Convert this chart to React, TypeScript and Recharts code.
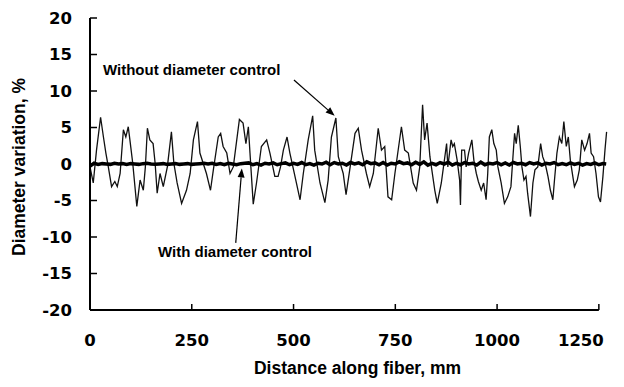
import React from 'react';
import { LineChart, Line, XAxis, YAxis, Label, ReferenceLine, ReferenceDot } from 'recharts';

// Without diameter control (thin trace)
const freeX = [0, 8, 16, 26, 33, 39, 45, 53, 61, 67, 74, 82, 88, 94, 98, 105, 115, 123, 131, 136, 141, 147, 155, 160, 165, 172, 180, 190, 200, 206, 214, 225, 237, 246, 254, 264, 270, 286, 296, 303, 315, 321, 327, 336, 344, 352, 367, 376, 383, 389, 393, 401, 409, 421, 434, 442, 454, 462, 468, 475, 484, 491, 507, 516, 524, 536, 547, 552, 565, 577, 585, 593, 604, 610, 622, 629, 638, 651, 659, 667, 679, 687, 696, 708, 716, 724, 732, 741, 749, 765, 773, 782, 794, 802, 810, 817, 822, 828, 835, 847, 853, 863, 876, 879, 887, 891, 895, 902, 908, 910, 913, 920, 924, 930, 938, 943, 949, 954, 961, 967, 973, 977, 981, 987, 992, 998, 1002, 1010, 1018, 1026, 1034, 1039, 1043, 1047, 1052, 1057, 1061, 1066, 1071, 1075, 1082, 1088, 1093, 1100, 1107, 1112, 1118, 1125, 1131, 1137, 1141, 1147, 1153, 1159, 1164, 1170, 1175, 1180, 1186, 1190, 1197, 1202, 1208, 1215, 1221, 1227, 1231, 1237, 1243, 1249, 1254, 1260, 1265, 1269];
const freeY = [-0.4, -2.6, 1.9, 6.4, 3.7, 1.5, -0.4, -3.1, -2.4, -3.1, -1.3, 4.7, 3.7, 5.1, 3.3, 0.1, -5.8, -2.2, -3.6, -0.4, 4.9, 3.3, 2.8, 0.1, -4.0, -1.3, -3.1, -0.4, 4.4, 0.1, -2.6, -5.4, -3.6, -1.3, 3.3, 5.8, 1.5, -1.3, -3.6, -0.8, 3.7, 4.2, 2.4, 1.5, -1.3, -0.4, 6.1, 5.6, 2.8, 5.1, 1.5, -5.5, -2.6, 2.4, 3.3, 1.5, -1.7, -1.7, -0.4, 1.9, 3.7, 1.5, -2.6, -4.9, -1.3, 3.3, 6.6, 1.9, -2.6, -5.3, -2.2, 3.7, 6.3, 1.0, -1.3, -4.2, -0.8, 4.2, 4.9, 1.9, -1.3, -3.1, -1.3, 4.9, 1.9, 2.4, -4.5, -4.9, -1.3, 5.1, 1.9, 1.5, -2.6, -3.6, -0.4, 8.1, 3.3, 5.6, 1.0, -3.6, -5.4, -2.6, 2.8, -0.4, 3.3, 2.4, 2.8, 0.5, -2.2, -5.6, 1.9, 1.9, -0.4, 1.5, 3.3, 0.5, -1.3, -2.4, -3.6, -2.6, -4.9, -1.3, 3.7, 4.7, 2.8, 1.9, -0.4, -2.6, -5.4, -4.5, -3.1, 1.0, 4.2, 2.8, 5.3, 2.4, -0.4, -2.2, -1.7, -4.0, -7.2, -2.6, -0.8, -0.4, 2.8, 1.0, 0.1, -1.7, -3.6, -4.9, -2.2, 1.5, 3.7, 2.8, 5.8, 2.4, 3.7, 0.5, -1.7, -3.1, -2.2, -0.8, 3.3, 1.9, 2.8, 4.2, 1.5, 1.0, -1.3, -4.5, -5.2, -1.7, 1.9, 4.4];

// With diameter control (thick trace)
const ctrlX = [0, 10, 20, 30, 40, 50, 60, 70, 80, 90, 100, 110, 120, 130, 140, 150, 160, 170, 180, 190, 200, 210, 220, 230, 240, 250, 260, 270, 280, 290, 300, 310, 320, 330, 340, 350, 360, 370, 380, 390, 400, 410, 420, 430, 440, 450, 460, 470, 480, 490, 500, 510, 520, 530, 540, 550, 560, 570, 580, 590, 600, 610, 620, 630, 640, 650, 660, 670, 680, 690, 700, 710, 720, 730, 740, 750, 760, 770, 780, 790, 800, 810, 820, 830, 840, 850, 860, 870, 880, 890, 900, 910, 920, 930, 940, 950, 960, 970, 980, 990, 1000, 1010, 1020, 1030, 1040, 1050, 1060, 1070, 1080, 1090, 1100, 1110, 1120, 1130, 1140, 1150, 1160, 1170, 1180, 1190, 1200, 1210, 1220, 1230, 1240, 1250, 1260, 1268];
const ctrlY = [-0.3, 0.1, -0.05, 0.05, 0.0, -0.05, 0.1, 0.0, 0.05, -0.05, 0.05, 0.0, -0.05, 0.05, 0.1, 0.0, -0.05, 0.0, 0.05, -0.05, 0.0, 0.05, -0.05, 0.0, 0.05, -0.05, 0.0, 0.05, 0.1, 0.0, 0.1, -0.05, 0.05, -0.1, 0.1, 0.0, -0.1, 0.05, 0.1, 0.15, -0.1, 0.05, -0.15, 0.1, 0.0, 0.15, -0.1, 0.05, 0.15, -0.1, 0.1, -0.05, 0.2, -0.1, 0.05, -0.15, 0.1, 0.0, 0.25, -0.1, 0.2, 0.0, 0.1, -0.15, 0.2, 0.0, 0.15, -0.1, 0.3, 0.05, 0.15, -0.1, 0.2, -0.15, 0.1, 0.0, 0.3, 0.05, 0.15, -0.1, 0.25, -0.05, 0.3, -0.15, 0.1, -0.1, 0.2, 0.0, 0.25, -0.15, 0.1, -0.1, 0.2, 0.0, 0.1, -0.15, 0.25, -0.1, 0.1, 0.0, 0.2, -0.1, 0.15, -0.15, 0.2, 0.0, 0.1, -0.1, 0.2, 0.0, 0.15, -0.15, 0.1, 0.0, 0.2, -0.1, 0.05, -0.1, 0.15, -0.05, 0.1, -0.15, 0.05, -0.05, 0.15, -0.1, 0.05, 0.0];

const xTicks = [0, 250, 500, 750, 1000, 1250];
const yTicks = [-20, -15, -10, -5, 0, 5, 10, 15, 20];
const xTitle = 'Distance along fiber, mm';
const yTitle = 'Diameter variation, %';
const freeName = 'Without diameter control';
const ctrlName = 'With diameter control';

const freeData = freeX.map((x, i) => ({ x, v: freeY[i] }));
const ctrlData = ctrlX.map((x, i) => ({ x, v: ctrlY[i] }));

const FONT = '"Liberation Sans", Arial, Helvetica, sans-serif';
const TICKFONT = '"DejaVu Sans", Verdana, sans-serif';

const arrowShape = (props: any) => {
  const { x1, y1, x2, y2 } = props;
  const ang = Math.atan2(y2 - y1, x2 - x1);
  const L = 9;
  const W = 3.5;
  const bx = x2 - L * Math.cos(ang);
  const by = y2 - L * Math.sin(ang);
  const px = -Math.sin(ang) * W;
  const py = Math.cos(ang) * W;
  return (
    <g>
      <line x1={x1} y1={y1} x2={bx} y2={by} stroke="#000" strokeWidth={1.2} />
      <polygon points={`${x2},${y2} ${bx + px},${by + py} ${bx - px},${by - py}`} fill="#000" />
    </g>
  );
};

const textShape = (label: string) => (props: any) => (
  <text x={props.cx} y={props.cy} fontFamily={FONT} fontWeight="bold" fontSize={15} fill="#000">
    {label}
  </text>
);

const tickStyle = { fontFamily: TICKFONT, fontWeight: 'bold', fontSize: 16.5, fill: '#000' } as any;

const XTick = (props: any) => {
  const { x, y, payload } = props;
  const last = payload.value === xTicks[xTicks.length - 1];
  return (
    <text
      x={last ? x + 5 : x}
      y={y}
      dy="0.71em"
      textAnchor={last ? 'end' : 'middle'}
      fontFamily={TICKFONT}
      fontWeight="bold"
      fontSize={16.5}
      fill="#000"
    >
      {payload.value}
    </text>
  );
};

export default function App() {
  return (
    <LineChart width={608} height={371} margin={{ top: 10, right: 9, bottom: 0, left: 0 }}>
      <XAxis
        type="number"
        dataKey="x"
        domain={[0, 1270]}
        ticks={xTicks}
        axisLine={false}
        tickSize={-6}
        tickMargin={30}
        tickLine={{ stroke: '#000', strokeWidth: 1.5 }}
        tick={XTick}
        height={69}
      >
        <Label
          content={(p: any) => {
            const vb = p.viewBox;
            return (
              <text x={vb.x + vb.width / 2 + 9} y={vb.y + 64} textAnchor="middle" fontFamily={FONT} fontWeight="bold" fontSize={17.5} fill="#000">
                {xTitle}
              </text>
            );
          }}
        />
      </XAxis>
      <YAxis
        type="number"
        domain={[-20, 20]}
        ticks={yTicks}
        width={82}
        axisLine={{ stroke: '#000', strokeWidth: 2 }}
        tickSize={-7}
        tickMargin={25}
        tickLine={{ stroke: '#000', strokeWidth: 1.5 }}
        tick={tickStyle}
      >
        <Label
          content={(p: any) => {
            const vb = p.viewBox;
            const cx = 11;
            const cy = vb.y + vb.height / 2 + 3;
            return (
              <text x={cx} y={cy} transform={`rotate(-90, ${cx}, ${cy})`} textAnchor="middle" dominantBaseline="central" fontFamily={FONT} fontWeight="bold" fontSize={17.5} fill="#000">
                {yTitle}
              </text>
            );
          }}
        />
      </YAxis>
      <ReferenceLine segment={[{ x: 0, y: -20 }, { x: 1250, y: -20 }]} stroke="#000" strokeWidth={2} ifOverflow="visible" />
      <Line data={freeData} dataKey="v" type="linear" stroke="#111" strokeWidth={1.3} dot={false} isAnimationActive={false} />
      <Line data={ctrlData} dataKey="v" type="linear" stroke="#000" strokeWidth={3.5} dot={false} isAnimationActive={false} />
      <ReferenceDot x={32} y={12.2} r={0} ifOverflow="visible" shape={textShape(freeName)} />
      <ReferenceDot x={167} y={-12.7} r={0} ifOverflow="visible" shape={textShape(ctrlName)} />
      <ReferenceLine segment={[{ x: 501, y: 11.5 }, { x: 601, y: 6.6 }]} ifOverflow="visible" shape={arrowShape} />
      <ReferenceLine segment={[{ x: 358, y: -10.8 }, { x: 373, y: -0.6 }]} ifOverflow="visible" shape={arrowShape} />
    </LineChart>
  );
}
